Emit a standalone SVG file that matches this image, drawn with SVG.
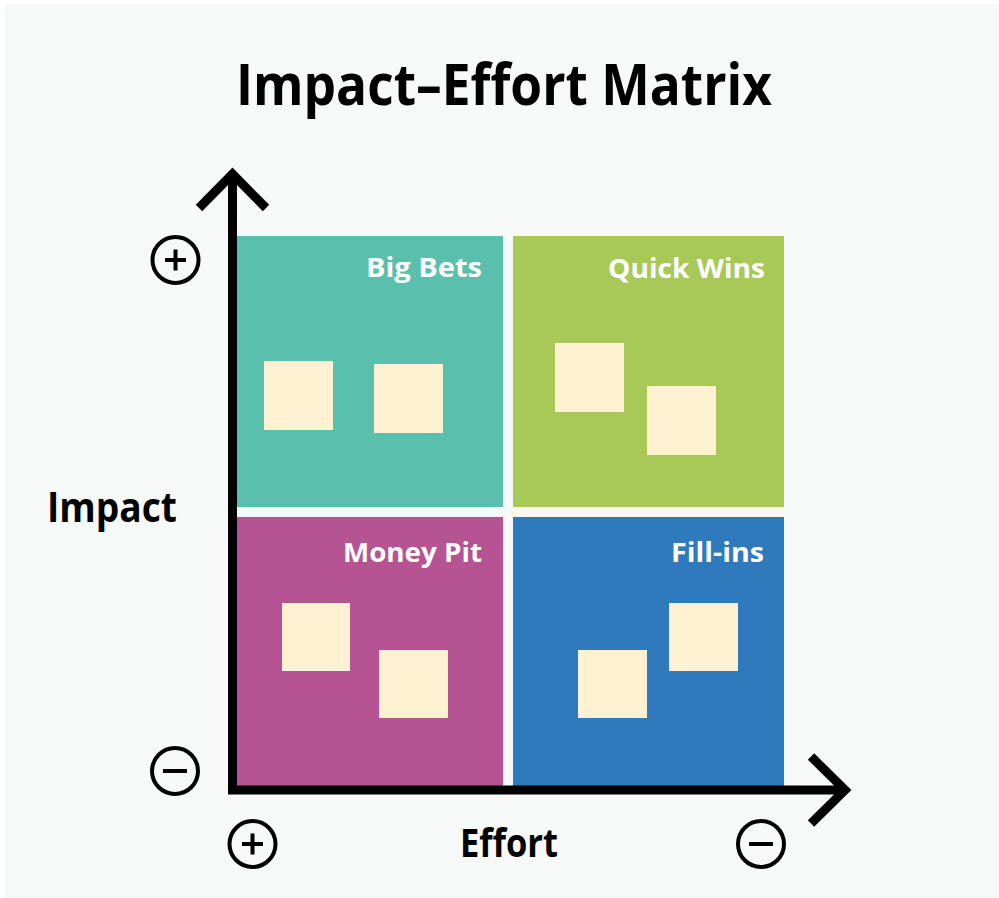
<svg xmlns="http://www.w3.org/2000/svg" width="999" height="898" viewBox="0 0 999 898">
<style>
.t{font-family:"Open Sans","Noto Sans","Liberation Sans",sans-serif;font-weight:700}
.ql{fill:#ffffff;font-size:26px;text-anchor:end}
.note{fill:#fef2d2}
.sign{fill:none;stroke:#000;stroke-width:4}
.axis{fill:none;stroke:#000;stroke-width:9}
.head{fill:none;stroke:#000;stroke-width:9;stroke-linecap:butt;stroke-linejoin:miter}
</style>
<rect x="0" y="0" width="999" height="898" fill="#ffffff"/>
<rect x="5" y="4" width="994" height="894" fill="#f7f9f9"/>
<text class="t" x="236" y="105" font-size="58" textLength="536" lengthAdjust="spacingAndGlyphs" fill="#000">Impact–Effort Matrix</text>

<g id="big-bets">
<rect x="237" y="236" width="266" height="271" fill="#5bbfad"/>
<text class="t ql" x="482" y="277" textLength="116" lengthAdjust="spacingAndGlyphs">Big Bets</text>
<rect class="note" x="264" y="361" width="69" height="69"/>
<rect class="note" x="374" y="364" width="69" height="69"/>
</g>
<g id="quick-wins">
<rect x="513" y="236" width="271" height="271" fill="#a8c957"/>
<text class="t ql" x="765" y="278" textLength="157" lengthAdjust="spacingAndGlyphs">Quick Wins</text>
<rect class="note" x="555" y="343" width="69" height="69"/>
<rect class="note" x="647" y="386" width="69" height="69"/>
</g>
<g id="money-pit">
<rect x="237" y="517" width="266" height="271" fill="#b55393"/>
<text class="t ql" x="482" y="562" textLength="139" lengthAdjust="spacingAndGlyphs">Money Pit</text>
<rect class="note" x="282" y="603" width="68" height="68"/>
<rect class="note" x="379" y="650" width="69" height="68"/>
</g>
<g id="fill-ins">
<rect x="513" y="517" width="271" height="271" fill="#2f7abd"/>
<text class="t ql" x="764" y="562" textLength="93" lengthAdjust="spacingAndGlyphs">Fill-ins</text>
<rect class="note" x="578" y="650" width="69" height="68"/>
<rect class="note" x="669" y="603" width="69" height="68"/>
</g>

<g id="connectors">
<path class="axis" d="M232.5 176 V790 H845"/>
<path class="head" d="M199 208 L232.5 174 L266 208"/>
<path class="head" d="M811 756.5 L845 790 L811 823.5"/>
</g>

<g id="impact-label">
<text class="t" x="47" y="522" font-size="41" textLength="130" lengthAdjust="spacingAndGlyphs" fill="#000">Impact</text>
</g>
<g id="effort-label">
<text class="t" x="460" y="857" font-size="39" textLength="98" lengthAdjust="spacingAndGlyphs" fill="#000">Effort</text>
</g>

<g id="impact-plus">
<circle class="sign" cx="175.5" cy="260" r="23"/>
<path class="sign" d="M165 260 H186 M175.5 249.5 V270.5" stroke-width="3"/>
</g>
<g id="impact-minus">
<circle class="sign" cx="175" cy="771" r="23"/>
<path class="sign" d="M163 771 H187" stroke-width="3"/>
</g>
<g id="effort-plus">
<circle class="sign" cx="252.5" cy="844" r="23"/>
<path class="sign" d="M242 844 H263 M252.5 833.5 V854.5" stroke-width="3"/>
</g>
<g id="effort-minus">
<circle class="sign" cx="761" cy="844" r="23"/>
<path class="sign" d="M749 844 H773" stroke-width="3"/>
</g>
</svg>
